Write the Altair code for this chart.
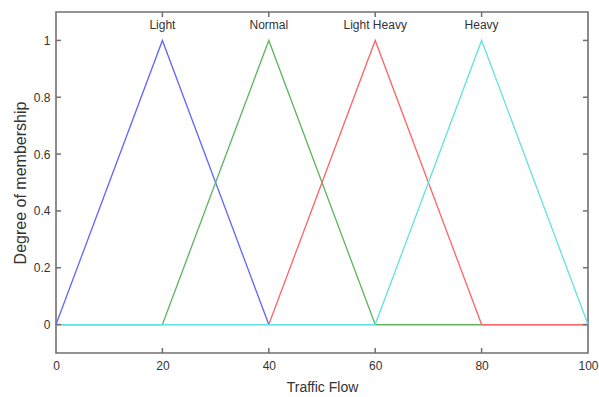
import altair as alt
import pandas as pd

names = ["Light", "Normal", "Light Heavy", "Heavy"]
colors = ["#6464ff", "#5fb45f", "#ff6464", "#64e1e1"]
xs = [
    [0, 20, 40, 100],
    [0, 20, 40, 60, 100],
    [0, 40, 60, 80, 100],
    [0, 60, 80, 100],
]
ys = [
    [0, 1, 0, 0],
    [0, 0, 1, 0, 0],
    [0, 0, 1, 0, 0],
    [0, 0, 1, 0],
]
peaks = [20, 40, 60, 80]
x_ticks = [0, 20, 40, 60, 80, 100]
y_ticks = [0, 0.2, 0.4, 0.6, 0.8, 1]

W, H = 532, 341
FONT = "Liberation Sans"

xscale = alt.Scale(domain=[0, 100], nice=False, zero=False)
yscale = alt.Scale(domain=[-0.1, 1.1], nice=False, zero=False)

xaxis = alt.Axis(values=x_ticks, tickSize=0, domain=False, grid=False, labelPadding=7,
                 labelFont=FONT, labelFontSize=12, labelColor="#333333",
                 title="Traffic Flow", titleFont=FONT, titleFontSize=14, titleFontWeight="normal",
                 titleColor="#333333", titlePadding=9, labelFlush=False)
yaxis = alt.Axis(values=y_ticks, tickSize=0, domain=False, grid=False, labelPadding=6,
                 format=".1~f",
                 labelFont=FONT, labelFontSize=12, labelColor="#333333",
                 title="Degree of membership", titleFont=FONT, titleFontSize=16,
                 titleFontWeight="normal", titleColor="#333333", titlePadding=5)

layers = []
for i, n in enumerate(names):
    df = pd.DataFrame({"x": xs[i], "y": ys[i]})
    ln = alt.Chart(df).mark_line(color=colors[i], strokeWidth=1.3).encode(
        x=alt.X("x:Q", scale=xscale, axis=xaxis),
        y=alt.Y("y:Q", scale=yscale, axis=yaxis),
    )
    layers.append(ln)

lab_df = pd.DataFrame({"name": names, "x": peaks})
labels = alt.Chart(lab_df).mark_text(font=FONT, fontSize=12, color="#333333",
                                     baseline="middle").encode(
    x=alt.X("x:Q", scale=xscale, axis=xaxis),
    y=alt.value(13),
    text="name:N",
)

xt = pd.DataFrame({"x": x_ticks[1:-1]})
yt = pd.DataFrame({"y": y_ticks})
tick_style = dict(color="#707070", strokeWidth=1.5)
bot = alt.Chart(xt).mark_rule(**tick_style).encode(
    x=alt.X("x:Q", scale=xscale, axis=xaxis), y=alt.value(H - 5), y2=alt.value(H))
top = alt.Chart(xt).mark_rule(**tick_style).encode(
    x=alt.X("x:Q", scale=xscale, axis=xaxis), y=alt.value(0), y2=alt.value(5))
lft = alt.Chart(yt).mark_rule(**tick_style).encode(
    y=alt.Y("y:Q", scale=yscale, axis=yaxis), x=alt.value(0), x2=alt.value(5))
rgt = alt.Chart(yt).mark_rule(**tick_style).encode(
    y=alt.Y("y:Q", scale=yscale, axis=yaxis), x=alt.value(W - 5), x2=alt.value(W))

chart = alt.layer(*layers, labels, bot, top, lft, rgt).properties(
    width=W, height=H,
    autosize=alt.AutoSizeParams(type="none"),
    padding={"left": 56, "top": 12, "right": 11, "bottom": 44},
    background="white",
).configure_view(stroke="#707070", strokeWidth=1.6)

chart.save("out.html", embed_options={"renderer": "svg", "actions": False})
